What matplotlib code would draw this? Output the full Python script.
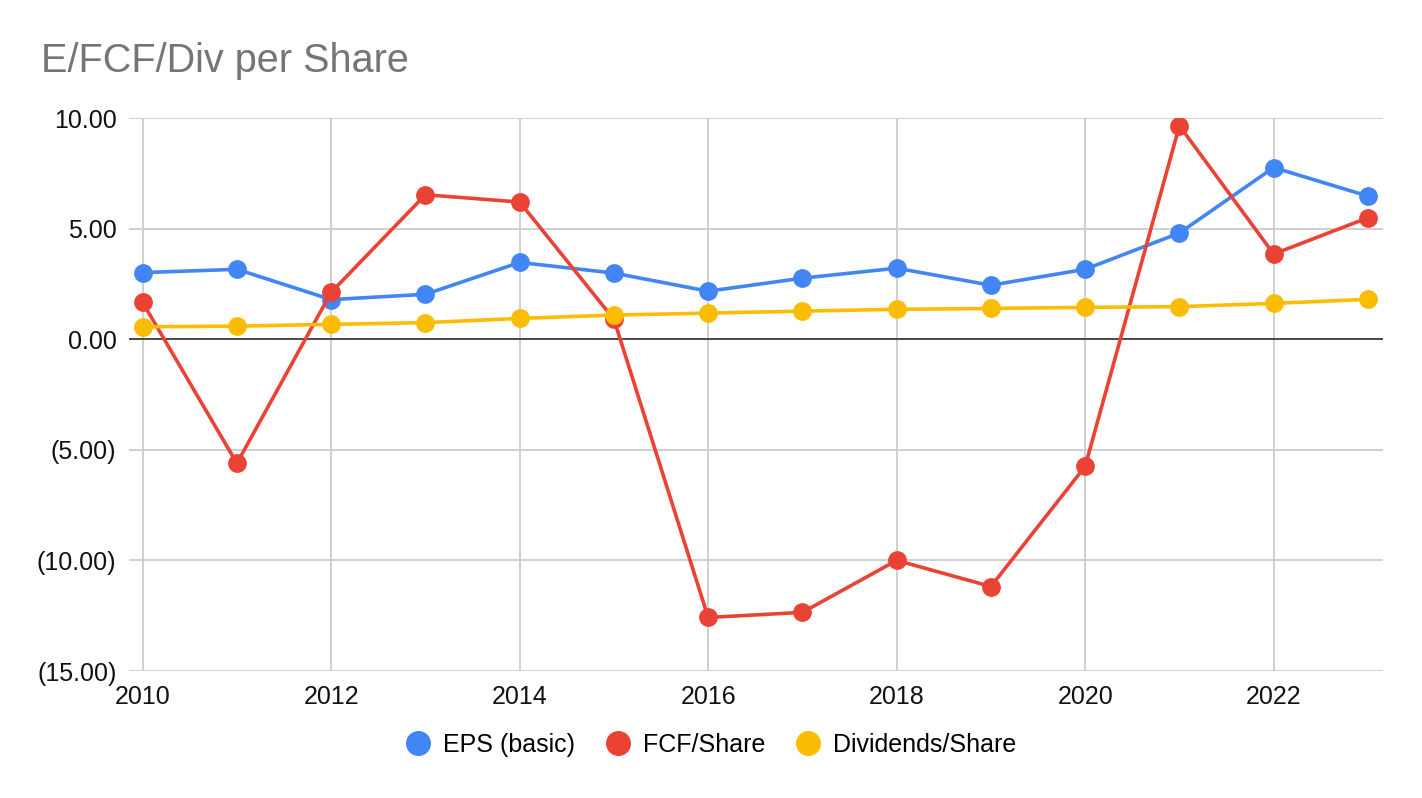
import matplotlib.pyplot as plt
from matplotlib.lines import Line2D
from matplotlib.ticker import FuncFormatter

years = list(range(2010, 2024))
eps = [3.01, 3.16, 1.79, 2.03, 3.47, 2.99, 2.17, 2.76, 3.21, 2.44, 3.16, 4.80, 7.76, 6.47]
fcf = [1.66, -5.61, 2.12, 6.53, 6.20, 0.90, -12.58, -12.35, -10.0, -11.18, -5.75, 9.65, 3.85, 5.49]
div = [0.56, 0.59, 0.67, 0.75, 0.94, 1.09, 1.18, 1.27, 1.35, 1.39, 1.44, 1.47, 1.62, 1.80]

series = [("EPS (basic)", eps, "#4285F4"),
          ("FCF/Share", fcf, "#EA4335"),
          ("Dividends/Share", div, "#FBBC04")]

plt.rcParams['font.family'] = ['Liberation Sans', 'DejaVu Sans']

fig = plt.figure(figsize=(14.22, 7.98), dpi=100)
ax = fig.add_axes([129 / 1422, 1 - 671 / 798, (1383 - 129) / 1422, (671 - 118) / 798])

for name, vals, col in series:
    ax.plot(years, vals, color=col, lw=2.6, marker='o', ms=12.5, zorder=3, label=name)

ax.axhline(0, color='#333333', lw=1.2, zorder=2)

ax.set_xlim(2009.855, 2023.16)
ax.set_ylim(-15, 10)
ax.set_xticks(range(2010, 2024, 2))
ax.set_yticks([-15, -10, -5, 0, 5, 10])


def fmt(v, pos):
    if v < 0:
        return "({:.2f})".format(-v)
    return "{:.2f}".format(v)


ax.yaxis.set_major_formatter(FuncFormatter(fmt))
ax.grid(True, color='#cccccc', lw=1.3, zorder=0)
for s in ax.spines.values():
    s.set_visible(False)
ax.tick_params(length=0, labelsize=18, colors='#111111')
ax.tick_params(axis='y', pad=9)
ax.tick_params(axis='x', pad=10)

fig.text(41 / 1422, 1 - 72 / 798, "E/FCF/Div per Share", fontsize=28.5, color='#757575', va='baseline')

handles = [Line2D([], [], ls='none', marker='o', ms=17, color=c) for _, _, c in series]
fig.legend(handles, [n for n, _, _ in series], loc='center', bbox_to_anchor=(0.5, 1 - 745 / 798),
           ncol=3, frameon=False, fontsize=18, handlelength=1.0, handletextpad=0.5,
           columnspacing=1.2)

fig.savefig("out.png", dpi=100)
